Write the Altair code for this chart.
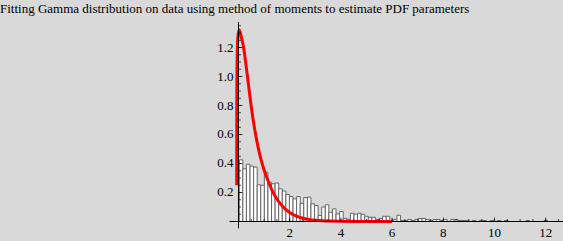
import altair as alt
import pandas as pd

TITLE = "Fitting Gamma distribution on data using method of moments to estimate PDF parameters"

# Histogram (PDF-normalised), bin start, bin width and heights
BIN_START = 0.03
BIN_WIDTH = 0.14
DENSITY = [
    0.425, 0.363, 0.395, 0.382, 0.375, 0.253, 0.250, 0.340, 0.271, 0.260,
    0.265, 0.225, 0.210, 0.186, 0.172, 0.156, 0.172, 0.126, 0.165, 0.168,
    0.122, 0.110, 0.041, 0.100, 0.115, 0.064, 0.087, 0.053, 0.069, 0.021,
    0.014, 0.057, 0.050, 0.057, 0.050, 0.036, 0.029, 0.029, 0.014, 0.021,
    0.036, 0.036, 0.007, 0.014, 0.043, 0.007, 0.007, 0.014, 0.007, 0.014,
    0.021, 0.021, 0.014, 0.007, 0.014, 0.014, 0.007, 0.014, 0.0, 0.014,
    0.014, 0.007, 0.007, 0.007, 0.0, 0.007, 0.0, 0.007, 0.007, 0.0,
    0.007, 0.0, 0.007, 0.0, 0.007, 0.0, 0.0, 0.0, 0.0, 0.0,
    0.007, 0.0, 0.0, 0.0, 0.0, 0.007, 0.0, 0.0, 0.0,
]

# Fitted gamma PDF curve
CURVE_X = [-0.07, -0.065, -0.05, -0.02, 0.03, 0.1, 0.2, 0.3, 0.4, 0.5, 0.6, 0.7, 0.8,
           0.9, 1.0, 1.1, 1.2, 1.3, 1.4, 1.5, 1.6, 1.8, 2.0, 2.2, 2.4, 2.6,
           2.8, 3.0, 3.3, 3.6, 4.0, 4.5, 5.0, 6.0]
CURVE_Y = [0.25, 0.9, 1.15, 1.28, 1.32, 1.28, 1.20, 1.07, 0.93, 0.79, 0.67,
           0.57, 0.485, 0.415, 0.355, 0.305, 0.26, 0.22, 0.185, 0.155, 0.13,
           0.09, 0.062, 0.042, 0.028, 0.019, 0.013, 0.009, 0.005, 0.003,
           0.0015, 0.0006, 0.0002, 0.0]

# Axes
X_TICK_LABELS = [2, 4, 6, 8, 10, 12]
Y_TICK_LABELS = [0.2, 0.4, 0.6, 0.8, 1.0, 1.2]
X_MINOR = [k * 0.5 for k in range(1, 26)]
Y_MINOR = [round(k * 0.05, 2) for k in range(1, 28)]
X_AXIS_RANGE = [-0.35, 12.7]
Y_AXIS_RANGE = [-0.047, 1.376]

W, H = 563, 241
XS = alt.Scale(domain=[-9.3164, 12.6758], nice=False, zero=False)
YS = alt.Scale(domain=[-0.1345, 1.5276], nice=False, zero=False)
FONT = "Liberation Serif, Times New Roman, serif"
BG = "#d9d9d9"

bins = pd.DataFrame({
    "x0": [BIN_START + i * BIN_WIDTH for i in range(len(DENSITY))],
    "x1": [BIN_START + (i + 1) * BIN_WIDTH for i in range(len(DENSITY))],
    "h": DENSITY,
    "z": [0.0] * len(DENSITY),
})
bins = bins[bins["h"] > 0]

curve = pd.DataFrame({"x": CURVE_X, "y": CURVE_Y})

bars = alt.Chart(bins).mark_rect(fill="white", stroke="#666666", strokeWidth=1).encode(
    x=alt.X("x0:Q", scale=XS, axis=None), x2="x1",
    y=alt.Y("z:Q", scale=YS, axis=None), y2="h",
)

line = alt.Chart(curve).mark_line(color="#ff0000", strokeWidth=3, interpolate="monotone").encode(
    x=alt.X("x:Q", scale=XS, axis=None),
    y=alt.Y("y:Q", scale=YS, axis=None),
)

xaxis = alt.Chart(pd.DataFrame({"a": [X_AXIS_RANGE[0]], "b": [X_AXIS_RANGE[1]], "y": [0.0]})).mark_rule(
    color="black", strokeWidth=1).encode(
    x=alt.X("a:Q", scale=XS, axis=None), x2="b",
    y=alt.Y("y:Q", scale=YS, axis=None),
)
yaxis = alt.Chart(pd.DataFrame({"a": [Y_AXIS_RANGE[0]], "b": [Y_AXIS_RANGE[1]], "x": [0.0]})).mark_rule(
    color="black", strokeWidth=1).encode(
    y=alt.Y("a:Q", scale=YS, axis=None), y2="b",
    x=alt.X("x:Q", scale=XS, axis=None),
)

def xticks(vals, size):
    df = pd.DataFrame({"x": vals, "y": [0.0] * len(vals)})
    return alt.Chart(df).mark_tick(orient="vertical", size=size, thickness=1, color="black",
                                   yOffset=-size / 2).encode(
        x=alt.X("x:Q", scale=XS, axis=None), y=alt.Y("y:Q", scale=YS, axis=None))

def yticks(vals, size):
    df = pd.DataFrame({"y": vals, "x": [0.0] * len(vals)})
    return alt.Chart(df).mark_tick(orient="horizontal", size=size, thickness=1, color="black",
                                   xOffset=size / 2).encode(
        x=alt.X("x:Q", scale=XS, axis=None), y=alt.Y("y:Q", scale=YS, axis=None))

xlab = alt.Chart(pd.DataFrame({"x": X_TICK_LABELS, "y": [0.0] * len(X_TICK_LABELS),
                               "t": [str(v) for v in X_TICK_LABELS]})).mark_text(
    font=FONT, fontSize=13, color="black", align="center", baseline="middle", dy=11.5).encode(
    x=alt.X("x:Q", scale=XS, axis=None), y=alt.Y("y:Q", scale=YS, axis=None), text="t:N")

ylab = alt.Chart(pd.DataFrame({"y": Y_TICK_LABELS, "x": [0.0] * len(Y_TICK_LABELS),
                               "t": [f"{v:.1f}" for v in Y_TICK_LABELS]})).mark_text(
    font=FONT, fontSize=13, color="black", align="right", baseline="middle", dx=-5).encode(
    x=alt.X("x:Q", scale=XS, axis=None), y=alt.Y("y:Q", scale=YS, axis=None), text="t:N")

title = alt.Chart(pd.DataFrame({"t": [TITLE]})).mark_text(
    font=FONT, fontSize=13, color="black", align="left", baseline="alphabetic").encode(
    x=alt.value(0), y=alt.value(13), text="t:N")

chart = alt.layer(
    bars, line, xaxis, yaxis,
    xticks(X_MINOR, 2.5), xticks(X_TICK_LABELS, 4),
    yticks(Y_MINOR, 2.5), yticks(Y_TICK_LABELS, 4),
    xlab, ylab, title,
).properties(
    width=W, height=H, background=BG, padding=0, autosize=alt.AutoSizeParams(type="none"),
).configure_view(strokeWidth=0)

chart.save("out.html", embed_options={"renderer": "svg", "actions": False})
